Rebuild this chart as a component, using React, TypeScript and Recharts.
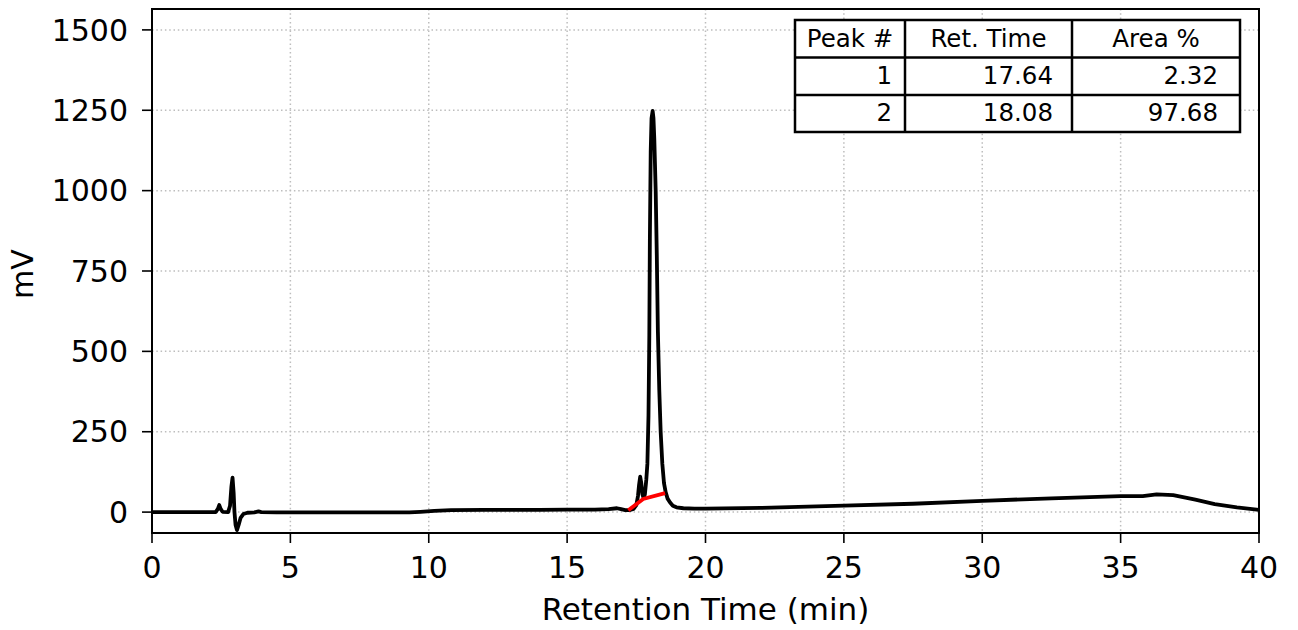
import React from "react";
import { LineChart, Line, XAxis, YAxis, CartesianGrid, ReferenceArea } from "recharts";

// chromatogram trace (min, mV)
const retentionTimes = [
    0, 1, 2, 2.3, 2.38, 2.43, 2.48, 2.55, 2.75, 2.82, 2.87, 2.91, 2.95, 2.98, 3.02, 3.07, 3.13, 3.2, 3.3, 3.45,
    3.7, 3.85, 3.95, 4.5, 6, 8, 9.3, 9.7, 10.2, 10.8, 12, 14, 15, 16, 16.5, 16.8, 16.95, 17.1, 17.25, 17.4,
    17.5, 17.56, 17.6, 17.64, 17.68, 17.72, 17.76, 17.81, 17.86, 17.9, 17.94, 17.97, 17.99, 18.02, 18.05, 18.09,
    18.12, 18.15, 18.2, 18.24, 18.28, 18.33, 18.38, 18.44, 18.5, 18.56, 18.63, 18.72, 18.82, 18.95, 19.2, 19.6,
    20, 22, 25, 27.5, 30, 32.5, 35, 35.8, 36.3, 36.9, 37.7, 38.4, 39.2, 40,
];
const signalMv = [
    0, 0, 0, 0, 10, 22, 10, 1, 0, 20, 80, 107, 60, 0, -40, -56, -40, -18, -6, -2,
    -1, 2, 0, -1, -1, -1, -1, 1, 4, 6, 7, 7, 8, 8, 9, 12, 9, 6, 6, 10,
    22, 50, 85, 110, 90, 55, 45, 55, 100, 150, 300, 550, 850, 1120, 1225, 1248,
    1225, 1160, 1000, 800, 560, 380, 250, 150, 90, 62, 42, 30, 20, 15, 12, 11,
    11, 13, 20, 26, 35, 43, 50, 50, 55, 53, 39, 25, 15, 7,
];

// integration baseline (red)
const baselineTimes = [17.21, 17.75, 18.54];
const baselineMv = [6, 41, 59];

const xTicks = [0, 5, 10, 15, 20, 25, 30, 35, 40];
const yTicks = [0, 250, 500, 750, 1000, 1250, 1500];

const tableHeaders = ["Peak #", "Ret. Time", "Area %"];
const peakNumbers = ["1", "2"];
const peakRetTimes = ["17.64", "18.08"];
const peakAreas = ["2.32", "97.68"];

const traceData = retentionTimes.map((t, i) => ({ t, v: signalMv[i] }));
const baselineData = baselineTimes.map((t, i) => ({ t, v: baselineMv[i] }));

const FONT = "'DejaVu Sans', sans-serif";

// table drawn as an svg overlay in the upper right of the axes
function PeakTable() {
    const colX = [795, 905, 1072, 1240];
    const rowY = [20, 57.5, 95, 132];
    const textRight = [892, 1053, 1218];
    const baselines = [47, 84, 121];
    const rows = peakNumbers.map((n, r) => [n, peakRetTimes[r], peakAreas[r]]);
    return (
        <svg width={1298} height={630} style={{ position: "absolute", left: 0, top: 0, pointerEvents: "none" }}>
            <rect x={colX[0]} y={rowY[0]} width={colX[3] - colX[0]} height={rowY[3] - rowY[0]} fill="#fff" stroke="#000" strokeWidth={2.5} />
            {colX.slice(1, 3).map((x) => (
                <line key={x} x1={x} x2={x} y1={rowY[0]} y2={rowY[3]} stroke="#000" strokeWidth={2.5} />
            ))}
            {rowY.slice(1, 3).map((y) => (
                <line key={y} x1={colX[0]} x2={colX[3]} y1={y} y2={y} stroke="#000" strokeWidth={2.5} />
            ))}
            {tableHeaders.map((h, i) => (
                <text key={h} x={(colX[i] + colX[i + 1]) / 2} y={baselines[0]} textAnchor="middle" fontSize={24.5} fontFamily={FONT} fill="#000">
                    {h}
                </text>
            ))}
            {rows.map((row, r) =>
                row.map((c, i) => (
                    <text key={`${r}-${i}`} x={textRight[i]} y={baselines[r + 1]} textAnchor="end" fontSize={24.5} fontFamily={FONT} fill="#000">
                        {c}
                    </text>
                ))
            )}
        </svg>
    );
}

export default function App() {
    return (
        <div style={{ position: "absolute", left: 0, top: 0, width: 1298, height: 630, background: "#fff" }}>
            <LineChart width={1298} height={630} margin={{ top: 9, right: 39, bottom: 0, left: 0 }}>
                <CartesianGrid stroke="#bdbdbd" strokeWidth={1.5} strokeDasharray="1.5 2.8" />
                <XAxis
                    type="number"
                    dataKey="t"
                    domain={[0, 40]}
                    ticks={xTicks}
                    allowDataOverflow
                    height={97}
                    axisLine={false}
                    tickSize={10}
                    tickMargin={14}
                    tickLine={{ stroke: "#000", strokeWidth: 1.6 }}
                    tick={{ fill: "#000", fontSize: 30, fontFamily: FONT }}
                    label={(props: any) => {
                        const vb = props.viewBox;
                        return (
                            <text x={vb.x + vb.width / 2} y={620} textAnchor="middle" fill="#000" fontSize={31} fontFamily={FONT}>
                                Retention Time (min)
                            </text>
                        );
                    }}
                />
                <YAxis
                    type="number"
                    dataKey="v"
                    domain={[-65, 1565]}
                    ticks={yTicks}
                    allowDataOverflow
                    width={152}
                    axisLine={false}
                    tickSize={10}
                    tickMargin={14}
                    tickLine={{ stroke: "#000", strokeWidth: 1.6 }}
                    tick={{ fill: "#000", fontSize: 30, fontFamily: FONT }}
                    label={(props: any) => {
                        const vb = props.viewBox;
                        const cy = vb.y + vb.height / 2 + 3;
                        return (
                            <text x={33} y={cy} transform={`rotate(-90, 33, ${cy})`} textAnchor="middle" fill="#000" fontSize={30} fontFamily={FONT}>
                                mV
                            </text>
                        );
                    }}
                />
                <Line
                    data={traceData}
                    dataKey="v"
                    type="linear"
                    stroke="#000"
                    strokeWidth={3.8}
                    strokeLinejoin="round"
                    dot={false}
                    activeDot={false}
                    isAnimationActive={false}
                />
                <Line
                    data={baselineData}
                    dataKey="v"
                    type="linear"
                    stroke="#ff0000"
                    strokeWidth={3.8}
                    dot={false}
                    activeDot={false}
                    isAnimationActive={false}
                />
                <ReferenceArea x1={0} x2={40} y1={-65} y2={1565} fill="none" stroke="#000" strokeWidth={2} ifOverflow="visible" />
            </LineChart>
            <PeakTable />
        </div>
    );
}
